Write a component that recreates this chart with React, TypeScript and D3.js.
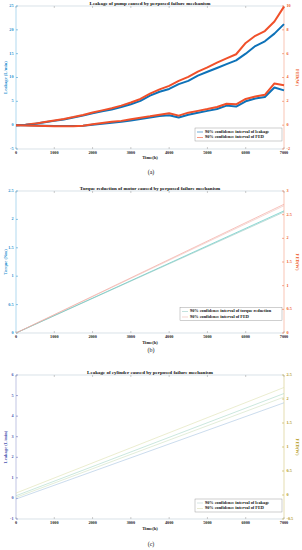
import React from "react";
import * as d3 from "d3";

// time axis shared by the three panels
const timeTicks = [0, 1000, 2000, 3000, 4000, 5000, 6000, 7000];
const timeA = [0, 250, 500, 750, 1000, 1250, 1500, 1750, 2000, 2250, 2500, 2750, 3000, 3250, 3500,
  3750, 4000, 4250, 4500, 4750, 5000, 5250, 5500, 5750, 6000, 6250, 6500, 6750, 7000];
const timeLin = [0, 7000];

// (a) pump leakage
const leakUpperA = [0, 0.1, 0.3, 0.6, 0.9, 1.2, 1.6, 2.0, 2.5, 2.9, 3.3, 3.8, 4.4, 5.1, 6.2,
  7.0, 7.6, 8.6, 9.3, 10.4, 11.2, 12.0, 12.8, 13.6, 15.0, 16.6, 17.6, 19.2, 21.2];
const leakLowerA = [0, 0, -0.05, -0.1, -0.15, -0.2, -0.2, -0.1, 0.1, 0.3, 0.5, 0.7, 1.0, 1.3, 1.6,
  1.9, 2.1, 1.6, 2.2, 2.6, 3.0, 3.4, 4.1, 3.9, 5.0, 5.6, 5.9, 7.9, 7.3];
const fedUpperA = [0, 0.04, 0.13, 0.26, 0.4, 0.52, 0.68, 0.86, 1.06, 1.24, 1.42, 1.64, 1.9, 2.2, 2.65,
  3.0, 3.3, 3.72, 4.05, 4.5, 4.85, 5.25, 5.6, 5.95, 6.9, 7.5, 7.9, 8.7, 9.95];
const fedLowerA = [0, -0.02, -0.05, -0.08, -0.1, -0.1, -0.1, -0.05, 0.08, 0.18, 0.28, 0.36, 0.5, 0.62, 0.74,
  0.88, 1.0, 0.8, 1.05, 1.2, 1.35, 1.52, 1.8, 1.75, 2.2, 2.4, 2.55, 3.5, 3.35];
const leftTicksA = [-5, 0, 5, 10, 15, 20, 25];
const rightTicksA = [-2, 0, 2, 4, 6, 8, 10];

// (b) motor torque reduction
const torqueUpperB = [0, 2.15];
const torqueLowerB = [0, 2.13];
const fedUpperB = [0, 2.72];
const fedLowerB = [0, 2.69];
const leftTicksB = [0, 0.5, 1, 1.5, 2, 2.5];
const rightTicksB = [0, 0.5, 1, 1.5, 2, 2.5, 3];

// (c) cylinder leakage
const leakUpperC = [0.13, 5.1];
const leakLowerC = [-0.03, 4.65];
const fedUpperC = [0.04, 2.24];
const fedLowerC = [-0.05, 2.04];
const leftTicksC = [-1, 0, 1, 2, 3, 4, 5, 6];
const rightTicksC = [-0.5, 0, 0.5, 1, 1.5, 2, 2.5];

const W = 302;
const X0 = 16;
const X1 = 284;
const FONT = "'Liberation Serif', 'Times New Roman', serif";

type Series = { t: number[]; v: number[]; side: "L" | "R"; color: string; width: number };

type PanelProps = {
  top: number;
  bottom: number;
  title: string;
  caption: string;
  leftDomain: [number, number];
  rightDomain: [number, number];
  leftTicks: number[];
  rightTicks: number[];
  leftLabel: string;
  rightLabel: string;
  leftColor: string;
  rightColor: string;
  series: Series[];
  legend: { x: number; y: number; w: number; labels: string[]; colors: string[] };
  timeLabelY: number;
  captionY: number;
};

const Panel = (p: PanelProps) => {
  const x = d3.scaleLinear().domain([0, 7000]).range([X0, X1]);
  const yL = d3.scaleLinear().domain(p.leftDomain).range([p.bottom, p.top]);
  const yR = d3.scaleLinear().domain(p.rightDomain).range([p.bottom, p.top]);
  const box = "#c9d6de";

  return (
    <g fontFamily={FONT} fontWeight="bold">
      {/* box */}
      <line x1={X0} x2={X1} y1={p.top} y2={p.top} stroke={box} strokeWidth={0.7} />
      <line x1={X0} x2={X1} y1={p.bottom} y2={p.bottom} stroke={box} strokeWidth={0.7} />
      <line x1={X0} x2={X0} y1={p.top} y2={p.bottom} stroke={p.leftColor} strokeOpacity={0.5} strokeWidth={0.7} />
      <line x1={X1} x2={X1} y1={p.top} y2={p.bottom} stroke={p.rightColor} strokeOpacity={0.5} strokeWidth={0.7} />

      {timeTicks.map((t) => (
        <g key={"xt" + t}>
          <line x1={x(t)} x2={x(t)} y1={p.bottom} y2={p.bottom - 2} stroke="#999" strokeWidth={0.5} />
          <line x1={x(t)} x2={x(t)} y1={p.top} y2={p.top + 2} stroke="#999" strokeWidth={0.5} />
          <text x={x(t)} y={p.bottom + 5} fontSize={4.2} textAnchor="middle" fill="#222">{t}</text>
        </g>
      ))}
      <text x={(X0 + X1) / 2} y={p.timeLabelY} fontSize={4.6} textAnchor="middle" fill="#222">Time(h)</text>

      {p.leftTicks.map((v) => (
        <g key={"lt" + v}>
          <line x1={X0} x2={X0 + 2} y1={yL(v)} y2={yL(v)} stroke={p.leftColor} strokeWidth={0.5} />
          <text x={X0 - 2.5} y={yL(v)} fontSize={4.2} textAnchor="end" dominantBaseline="middle" fill={p.leftColor}>{v}</text>
        </g>
      ))}
      {p.rightTicks.map((v) => (
        <g key={"rt" + v}>
          <line x1={X1} x2={X1 - 2} y1={yR(v)} y2={yR(v)} stroke={p.rightColor} strokeWidth={0.5} />
          <text x={X1 + 2.5} y={yR(v)} fontSize={4.2} textAnchor="start" dominantBaseline="middle" fill={p.rightColor}>{v}</text>
        </g>
      ))}
      <text transform={`translate(5.5, ${(p.top + p.bottom) / 2}) rotate(-90)`} fontSize={4.6}
        textAnchor="middle" dominantBaseline="middle" fill={p.leftColor}>{p.leftLabel}</text>
      <text transform={`translate(297, ${(p.top + p.bottom) / 2}) rotate(90)`} fontSize={4.6}
        textAnchor="middle" dominantBaseline="middle" fill={p.rightColor}>{p.rightLabel}</text>

      {p.series.map((s, i) => {
        const y = s.side === "L" ? yL : yR;
        const line = d3.line<number>().x((_, j) => x(s.t[j])).y((d) => y(d));
        return <path key={"s" + i} d={line(s.v) ?? ""} fill="none" stroke={s.color} strokeWidth={s.width}
          strokeLinejoin="round" />;
      })}

      <text x={(X0 + X1) / 2} y={p.top - 1.5} fontSize={5} textAnchor="middle" fill="#111">{p.title}</text>

      <rect x={p.legend.x} y={p.legend.y} width={p.legend.w} height={13} fill="#fff" stroke="#888" strokeWidth={0.4} />
      {p.legend.labels.map((lab, i) => (
        <g key={"lg" + i}>
          <line x1={p.legend.x + 2} x2={p.legend.x + 8} y1={p.legend.y + 4 + i * 5.5} y2={p.legend.y + 4 + i * 5.5}
            stroke={p.legend.colors[i]} strokeWidth={0.6} />
          <text x={p.legend.x + 10} y={p.legend.y + 4 + i * 5.5} fontSize={4.3} dominantBaseline="middle" fill="#111">{lab}</text>
        </g>
      ))}

      <text x={W / 2} y={p.captionY} fontSize={6} fontWeight="normal" textAnchor="middle" fill="#111">{p.caption}</text>
    </g>
  );
};

export default function App() {
  return (
    <svg width={W} height={550} style={{ position: "absolute", left: 0, top: 0, background: "#fff" }}>
      <Panel
        top={6} bottom={149}
        title="Leakage of pump caused by perposed failure mechanism"
        caption="(a)" captionY={174} timeLabelY={159}
        leftDomain={[-5, 25]} rightDomain={[-2, 10]}
        leftTicks={leftTicksA} rightTicks={rightTicksA}
        leftLabel="Leakage (L/min)" rightLabel="FED(W)"
        leftColor="#1f8fcf" rightColor="#ee5a2a"
        series={[
          { t: timeA, v: leakUpperA, side: "L", color: "#0e72b8", width: 2 },
          { t: timeA, v: fedUpperA, side: "R", color: "#f0502a", width: 2 },
          { t: timeA, v: leakLowerA, side: "L", color: "#0e72b8", width: 2 },
          { t: timeA, v: fedLowerA, side: "R", color: "#f0502a", width: 2 },
        ]}
        legend={{ x: 195, y: 128, w: 87, labels: ["90% confidence interval of leakage", "90% confidence interval of FED"], colors: ["#0e72b8", "#f0502a"] }}
      />
      <Panel
        top={191} bottom={333}
        title="Torque reduction of motor caused by perposed failure mechanism"
        caption="(b)" captionY={352} timeLabelY={344}
        leftDomain={[0, 2.5]} rightDomain={[0, 3]}
        leftTicks={leftTicksB} rightTicks={rightTicksB}
        leftLabel="Torque (Nm)" rightLabel="FED(W)"
        leftColor="#1f8fcf" rightColor="#ee5a2a"
        series={[
          { t: timeLin, v: torqueUpperB, side: "L", color: "#5ccac4", width: 0.7 },
          { t: timeLin, v: torqueLowerB, side: "L", color: "#7fb8b0", width: 0.5 },
          { t: timeLin, v: fedUpperB, side: "R", color: "#f5a9a0", width: 0.7 },
          { t: timeLin, v: fedLowerB, side: "R", color: "#e8b0a8", width: 0.5 },
        ]}
        legend={{ x: 180, y: 307.5, w: 102, labels: ["90% confidence interval of torque reduction", "90% confidence interval of FED"], colors: ["#9ccfc8", "#f0b8b0"] }}
      />
      <Panel
        top={375} bottom={519}
        title="Leakage of cylinder caused by perposed failure mechanism"
        caption="(c)" captionY={546} timeLabelY={530}
        leftDomain={[-1, 6]} rightDomain={[-0.5, 2.5]}
        leftTicks={leftTicksC} rightTicks={rightTicksC}
        leftLabel="Leakage (L/min)" rightLabel="FED(W)"
        leftColor="#4b55b0" rightColor="#b49a1e"
        series={[
          { t: timeLin, v: fedUpperC, side: "R", color: "#dde0b0", width: 0.6 },
          { t: timeLin, v: leakUpperC, side: "L", color: "#a8d6c8", width: 0.6 },
          { t: timeLin, v: fedLowerC, side: "R", color: "#cfe0c0", width: 0.6 },
          { t: timeLin, v: leakLowerC, side: "L", color: "#a8c4e0", width: 0.6 },
        ]}
        legend={{ x: 195, y: 499, w: 87, labels: ["90% confidence interval of leakage", "90% confidence interval of FED"], colors: ["#b8d4d0", "#d8dcb0"] }}
      />
    </svg>
  );
}
